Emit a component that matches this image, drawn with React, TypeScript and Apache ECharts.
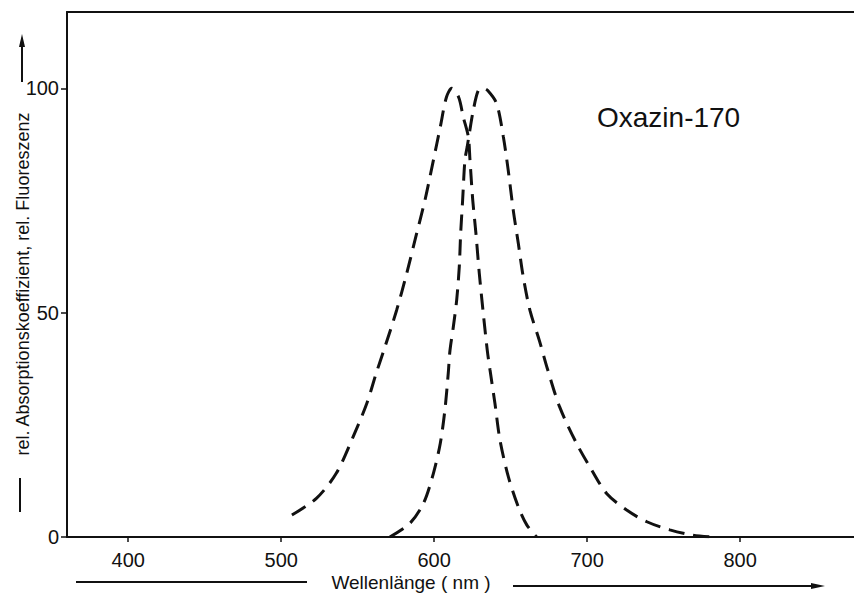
import React, { useEffect, useRef } from "react";
import * as echarts from "echarts";

// Absorption curve (left, peak ~611 nm)
const absNm = [507, 523, 536, 547, 556, 562, 567, 575.5, 582, 588.5, 594, 599.5, 604, 608, 611.5, 616, 619, 622.3, 623.4, 625.2, 627.3, 629.5, 632.1, 634.7, 636.5, 639.7, 643, 648.5, 655, 660.5, 667];
const absVal = [4.9, 8.6, 14.2, 22.3, 29.8, 36.4, 41.5, 50.6, 58.7, 67.6, 75.1, 84, 91.4, 98, 100, 98, 93.6, 89.2, 84, 75.1, 67.6, 58.7, 49.8, 41.6, 37.2, 29.8, 21.6, 13.4, 6.7, 2.7, 0];

// Fluorescence curve (right, peak ~632 nm)
const fluNm = [571, 584, 593, 599.5, 604, 607, 609.2, 610.3, 612.5, 614.7, 616.4, 617.3, 618.6, 620.1, 621.6, 623, 625.5, 628.8, 632, 635, 640.8, 645.2, 648.4, 651.7, 655, 658.2, 662.6, 669, 674, 682, 693, 703, 712.7, 725.8, 739, 754, 769, 782];
const fluVal = [0, 3, 7.5, 14.2, 20.9, 28.3, 36.5, 41.5, 46.8, 52.8, 60.2, 67.6, 75.1, 84, 87, 90, 95, 99.5, 100, 99.5, 96.6, 89.2, 81.7, 72.8, 65.4, 58, 50.5, 43.5, 37.5, 29, 20.9, 14.9, 9.7, 6, 3.4, 1.6, 0.4, 0];

const xTicks = [400, 500, 600, 700, 800];
const yTicks = [0, 50, 100];

const xName = "Wellenlänge ( nm )";
const yName = "rel. Absorptionskoeffizient, rel. Fluoreszenz";
const title = "Oxazin-170";

const FONT = "'Liberation Sans', Arial, sans-serif";
const INK = "#111";

export default function App() {
  const ref = useRef<HTMLDivElement>(null);
  useEffect(() => {
    if (!ref.current) return;
    const chart = echarts.init(ref.current, undefined, { renderer: "svg" });
    const dash = { type: [16, 9] as any, width: 3, color: INK };
    chart.setOption({
      animation: false,
      backgroundColor: "#fff",
      grid: { left: 67, top: 12, right: 0, bottom: 59 },
      xAxis: [
        {
          type: "value",
          min: 360,
          max: 874.4,
          axisLine: { lineStyle: { color: INK, width: 2 } },
          axisTick: { show: true, length: 5, inside: false, customValues: xTicks, lineStyle: { color: INK, width: 1.5 } },
          axisLabel: { customValues: xTicks, margin: 13, fontSize: 20, fontFamily: FONT, color: INK },
          splitLine: { show: false },
        },
        {
          type: "value",
          position: "top",
          min: 360,
          max: 874.4,
          axisLine: { lineStyle: { color: INK, width: 2 } },
          axisTick: { show: false },
          axisLabel: { show: false },
          splitLine: { show: false },
        },
      ],
      yAxis: {
        type: "value",
        min: 0,
        max: 117,
        axisLine: { show: true, lineStyle: { color: INK, width: 2 } },
        axisTick: { show: true, length: 6, customValues: yTicks, lineStyle: { color: INK, width: 1.5 } },
        axisLabel: { customValues: yTicks, margin: 8, fontSize: 20, fontFamily: FONT, color: INK },
        splitLine: { show: false },
      },
      series: [
        {
          type: "line",
          data: absNm.map((x, i) => [x, absVal[i]]),
          showSymbol: false,
          smooth: 0.3,
          lineStyle: dash,
        },
        {
          type: "line",
          data: fluNm.map((x, i) => [x, fluVal[i]]),
          showSymbol: false,
          smooth: 0.3,
          lineStyle: dash,
        },
      ],
      graphic: [
        {
          type: "text",
          x: 597,
          y: 117,
          style: { text: title, font: `28px ${FONT}`, fill: INK, align: "left", verticalAlign: "middle" },
        },
        {
          type: "text",
          x: 23,
          y: 284,
          rotation: Math.PI / 2,
          style: { text: yName, font: `18px ${FONT}`, fill: INK, align: "center", verticalAlign: "middle" },
        },
        { type: "line", shape: { x1: 20, y1: 478, x2: 20, y2: 512 }, style: { stroke: INK, lineWidth: 2 } },
        { type: "line", shape: { x1: 22, y1: 82, x2: 22, y2: 44 }, style: { stroke: INK, lineWidth: 2 } },
        { type: "polygon", shape: { points: [[22, 34], [19, 47], [25, 47]] }, style: { fill: INK } },
        {
          type: "text",
          x: 411,
          y: 582,
          style: { text: xName, font: `19px ${FONT}`, fill: INK, align: "center", verticalAlign: "middle" },
        },
        { type: "line", shape: { x1: 76, y1: 582, x2: 307, y2: 582 }, style: { stroke: INK, lineWidth: 2 } },
        { type: "line", shape: { x1: 513, y1: 586, x2: 814, y2: 586 }, style: { stroke: INK, lineWidth: 2 } },
        { type: "polygon", shape: { points: [[825, 586], [811, 583], [811, 589]] }, style: { fill: INK } },
      ],
    });
    return () => chart.dispose();
  }, []);
  return (
    <div
      ref={ref}
      style={{ position: "absolute", left: 0, top: 0, width: 854, height: 596, background: "#fff" }}
    />
  );
}
